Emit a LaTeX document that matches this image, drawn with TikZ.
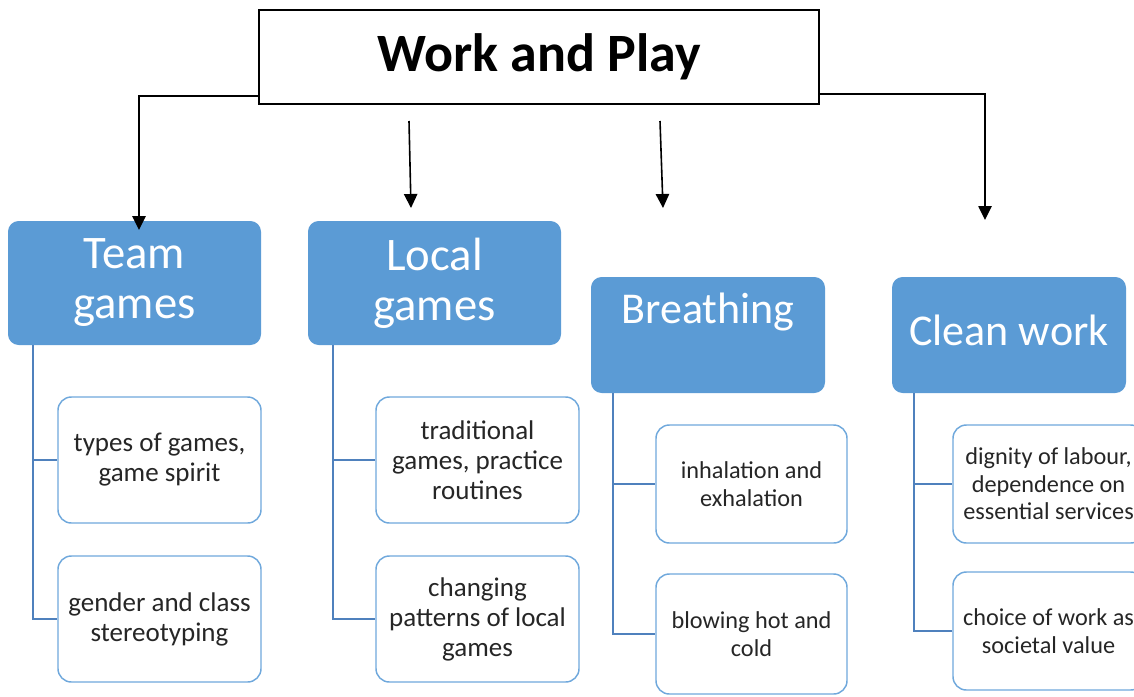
\documentclass[tikz,border=0pt]{standalone}
\usepackage{fontspec}
\setmainfont{Carlito}
\usetikzlibrary{arrows.meta}
\definecolor{catblue}{HTML}{5B9BD5}
\definecolor{connblue}{HTML}{4F81BD}
\definecolor{kidline}{HTML}{6FA8DC}
\begin{document}
\begin{tikzpicture}[x=0.75pt,y=-0.75pt,
  titlebox/.style={draw=black,line width=1.3pt,fill=white,minimum width=420pt,minimum height=70.5pt,inner sep=0pt,font=\fontsize{40.5}{45}\selectfont\bfseries},
  catbox/.style={fill=catblue,rounded corners=8pt,inner sep=0pt,text=white,align=center,font=\fontsize{35}{37.5}\selectfont},
  cattext/.style={text=white,inner sep=0pt,font=\fontsize{33}{36}\selectfont},
  kidA/.style={draw=kidline,line width=1.1pt,fill=white,rounded corners=10pt,minimum width=152.25pt,minimum height=94.5pt,inner sep=0pt,align=center,text=black!85,font=\fontsize{20.25}{22.5}\selectfont},
  kidB/.style={draw=kidline,line width=1.1pt,fill=white,rounded corners=10pt,minimum width=143.25pt,minimum height=88.5pt,inner sep=0pt,align=center,text=black!85,font=\fontsize{18.2}{20.6}\selectfont},
  conn/.style={draw=connblue,line width=1.3pt},
  arr/.style={draw=black,line width=1.2pt,-{Triangle[length=10.5pt,width=10pt]}}]
\useasboundingbox (0,0) rectangle (1134,696);
% title
\node[titlebox] (tt) at (539,57) {Work and Play};
% categories
\node[catbox,minimum width=189.75pt,minimum height=93pt] (tg) at (134.5,283) {Team\\games};
\node[catbox,minimum width=189.75pt,minimum height=93pt] (lg) at (434.5,283) {Local\\games};
\node[catbox,minimum width=175.5pt,minimum height=87pt] (br) at (708,335) {};
\node[cattext,anchor=base] (brt) at (708,323) {Breathing};
\node[catbox,minimum width=175.5pt,minimum height=87pt] (cw) at (1009,335) {};
\node[cattext,anchor=base] (cwt) at (1009,345) {Clean work};
% arrows
\coordinate (a1) at (139,230);
\coordinate (a2s) at (409,121);
\coordinate (a2e) at (411,208);
\coordinate (a3s) at (660,121);
\coordinate (a3e) at (663,208);
\coordinate (a4) at (985,220);
\draw[arr] (tt.south west) ++(0,-9) -| (a1);
\draw[arr] (a2s) -- (a2e);
\draw[arr] (a3s) -- (a3e);
\draw[arr] (tt.south east) ++(0,-11) -| (a4);
% children
\node[kidA] (t1) at (159.5,460) {types of games,\\game spirit};
\node[kidA] (t2) at (159.5,619) {gender and class\\stereotyping};
\node[kidA] (l1) at (477.5,460) {traditional\\games, practice\\routines};
\node[kidA] (l2) at (477.5,619) {changing\\patterns of local\\games};
\node[kidB] (b1) at (751.5,484) {inhalation and\\exhalation};
\node[kidB,minimum height=90pt] (b2) at (751.5,634) {blowing hot and\\cold};
\node[kidB] (c1) at (1048.5,484) {dignity of labour,\\dependence on\\essential services};
\node[kidB] (c2) at (1048.5,631) {choice of work as\\societal value};
% connectors
\draw[conn] (tg.south west) ++(25,0) |- (t2.west);
\draw[conn] (tg.south west) ++(25,0) |- (t1.west);
\draw[conn] (lg.south west) ++(25,0) |- (l2.west);
\draw[conn] (lg.south west) ++(25,0) |- (l1.west);
\draw[conn] (br.south west) ++(22,0) |- (b2.west);
\draw[conn] (br.south west) ++(22,0) |- (b1.west);
\draw[conn] (cw.south west) ++(22,0) |- (c2.west);
\draw[conn] (cw.south west) ++(22,0) |- (c1.west);
\end{tikzpicture}
\end{document}
